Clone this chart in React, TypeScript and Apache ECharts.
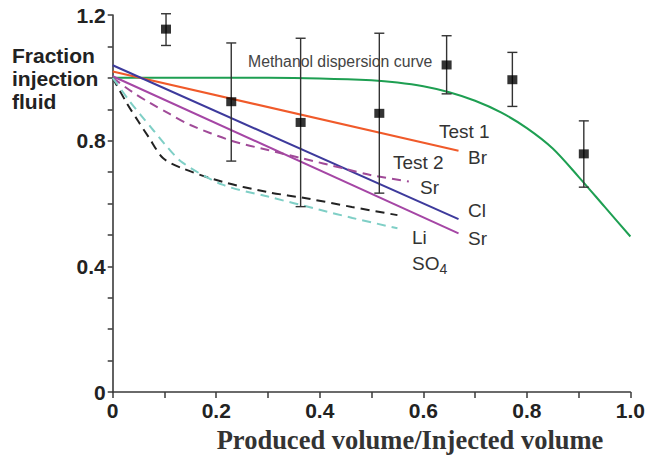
import React, { useEffect, useRef } from "react";
import * as echarts from "echarts";

// Methanol dispersion curve (fraction of injection fluid vs produced/injected volume)
const methanolX = [0, 0.1, 0.2, 0.3, 0.4, 0.5, 0.55, 0.6, 0.65, 0.7, 0.75, 0.8, 0.85, 0.9, 0.95, 1.0];
const methanolY = [1.0, 1.0, 1.0, 1.0, 0.998, 0.992, 0.985, 0.973, 0.954, 0.927, 0.89, 0.84, 0.775, 0.685, 0.59, 0.495];

// Test 1 – straight fits
const brX = [0, 0.668];
const brY = [1.02, 0.768];
const clX = [0, 0.668];
const clY = [1.04, 0.55];
const sr1X = [0, 0.668];
const sr1Y = [1.005, 0.505];

// Test 2 – dashed breakthrough curves
const sr2X = [0, 0.037, 0.072, 0.11, 0.15, 0.229, 0.3, 0.363, 0.45, 0.5, 0.572];
const sr2Y = [1.0, 0.956, 0.92, 0.885, 0.85, 0.8, 0.77, 0.745, 0.71, 0.69, 0.67];
const liX = [0, 0.027, 0.05, 0.07, 0.097, 0.133, 0.212, 0.297, 0.379, 0.462, 0.55];
const liY = [1.0, 0.92, 0.86, 0.81, 0.745, 0.713, 0.669, 0.637, 0.615, 0.589, 0.563];
const so4X = [0, 0.033, 0.055, 0.08, 0.1, 0.135, 0.212, 0.3, 0.4, 0.463, 0.55];
const so4Y = [1.0, 0.925, 0.88, 0.83, 0.79, 0.73, 0.66, 0.622, 0.58, 0.554, 0.521];

// Measured methanol fractions with error bars
const obsX = [0.103, 0.229, 0.363, 0.515, 0.645, 0.772, 0.91];
const obsY = [1.155, 0.924, 0.858, 0.887, 1.041, 0.994, 0.758];
const obsLo = [1.103, 0.735, 0.59, 0.633, 0.949, 0.909, 0.652];
const obsHi = [1.204, 1.111, 1.126, 1.142, 1.134, 1.081, 0.863];

const xTickLabels = ["0", "0.2", "0.4", "0.6", "0.8", "1.0"];
const yTickLabels = ["0", "0.4", "0.8", "1.2"];

const zip = (xs: number[], ys: number[]) => xs.map((x, i) => [x, ys[i]]);

const SANS = '"Liberation Sans", Arial, sans-serif';
const AXIS = "#3a3a3a";

export default function App() {
  const ref = useRef<HTMLDivElement>(null);

  useEffect(() => {
    if (!ref.current) return;
    const chart = echarts.init(ref.current, null, { renderer: "svg" });

    const line = (name: string, xs: number[], ys: number[], color: string, dashed = false, smooth: number | boolean = false) => ({
      name,
      type: "line",
      data: zip(xs, ys),
      showSymbol: false,
      smooth,
      lineStyle: { color, width: 2, type: dashed ? [9, 6] : "solid" },
      z: 2,
    });

    const label = (text: string, x: number, y: number, size = 19, fill = "#333") => ({
      type: "text",
      x,
      y,
      style: {
        text,
        font: `${size}px ${SANS}`,
        fill,
        textVerticalAlign: "middle",
        rich: {
          sub: { fontSize: 14, verticalAlign: "bottom", padding: [12, 0, 0, 0], fill },
        },
      },
      z: 10,
    });

    chart.setOption({
      animation: false,
      grid: { left: 112.7, right: 15.3, top: 15, bottom: 65, containLabel: false },
      xAxis: {
        type: "value",
        min: 0,
        max: 1,
        interval: 0.2,
        axisLine: { lineStyle: { color: AXIS, width: 1.6 } },
        axisTick: { show: true, inside: false, length: 6, lineStyle: { color: AXIS, width: 1.5 } },
        minorTick: { show: true, splitNumber: 2, length: 6, lineStyle: { color: AXIS, width: 1.5 } },
        splitLine: { show: false },
        minorSplitLine: { show: false },
        axisLabel: {
          margin: 8,
          color: "#222",
          fontFamily: SANS,
          fontWeight: "bold",
          fontSize: 21,
          formatter: (v: number) => xTickLabels[Math.round(v / 0.2)] ?? "",
        },
      },
      yAxis: {
        type: "value",
        min: 0,
        max: 1.2,
        interval: 0.4,
        axisLine: { show: true, lineStyle: { color: AXIS, width: 1.6 } },
        axisTick: { show: true, inside: false, length: 5, lineStyle: { color: AXIS, width: 1.5 } },
        minorTick: { show: true, splitNumber: 4, length: 5, lineStyle: { color: AXIS, width: 1.5 } },
        splitLine: { show: false },
        minorSplitLine: { show: false },
        axisLabel: {
          margin: 7,
          color: "#222",
          fontFamily: SANS,
          fontWeight: "bold",
          fontSize: 21,
          formatter: (v: number) => yTickLabels[Math.round(v / 0.4)] ?? "",
        },
      },
      series: [
        line("Methanol", methanolX, methanolY, "#1e9f52", false, 0.3),
        line("Br", brX, brY, "#f05a2a"),
        line("Cl", clX, clY, "#3d3a9c"),
        line("Sr (Test 1)", sr1X, sr1Y, "#a546a5"),
        line("Sr (Test 2)", sr2X, sr2Y, "#a04a98", true, 0.3),
        line("Li", liX, liY, "#222222", true, 0.3),
        line("SO4", so4X, so4Y, "#7fcfc6", true, 0.3),
        {
          name: "error",
          type: "custom",
          data: obsX.map((x, i) => [x, obsY[i], obsLo[i], obsHi[i]]),
          renderItem: (_params: any, api: any) => {
            const x = api.value(0);
            const top = api.coord([x, api.value(3)]);
            const bot = api.coord([x, api.value(2)]);
            const st = { stroke: "#333", lineWidth: 1.4 };
            const cap = 5;
            return {
              type: "group",
              children: [
                { type: "line", shape: { x1: top[0], y1: top[1], x2: bot[0], y2: bot[1] }, style: st },
                { type: "line", shape: { x1: top[0] - cap, y1: top[1], x2: top[0] + cap, y2: top[1] }, style: st },
                { type: "line", shape: { x1: bot[0] - cap, y1: bot[1], x2: bot[0] + cap, y2: bot[1] }, style: st },
              ],
            };
          },
          z: 5,
        },
        {
          name: "observed",
          type: "scatter",
          data: zip(obsX, obsY),
          symbol: "rect",
          symbolSize: [10, 9],
          itemStyle: { color: "#000" },
          z: 6,
        },
      ],
      graphic: [
        {
          type: "text",
          x: 12,
          y: 44,
          style: {
            text: "Fraction\ninjection\nfluid",
            font: `bold 21px ${SANS}`,
            lineHeight: 23,
            fill: "#222",
          },
        },
        {
          type: "text",
          x: 410,
          y: 440,
          style: {
            text: "Produced volume/Injected volume",
            font: 'bold 26.5px "Liberation Serif", "Times New Roman", serif',
            fill: "#333",
            textAlign: "center",
            textVerticalAlign: "middle",
          },
        },
        label("Methanol dispersion curve", 248, 61, 15.8, "#444"),
        label("Test 1", 439, 131),
        label("Br", 468, 157),
        label("Test 2", 393, 162),
        label("Sr", 420, 187),
        label("Cl", 468, 210),
        label("Sr", 468, 238),
        label("Li", 412, 237),
        label("SO{sub|4}", 412, 263),
      ],
    });

    return () => chart.dispose();
  }, []);

  return (
    <div
      ref={ref}
      style={{ position: "fixed", left: 0, top: 0, width: 648, height: 457, background: "#fff" }}
    />
  );
}
